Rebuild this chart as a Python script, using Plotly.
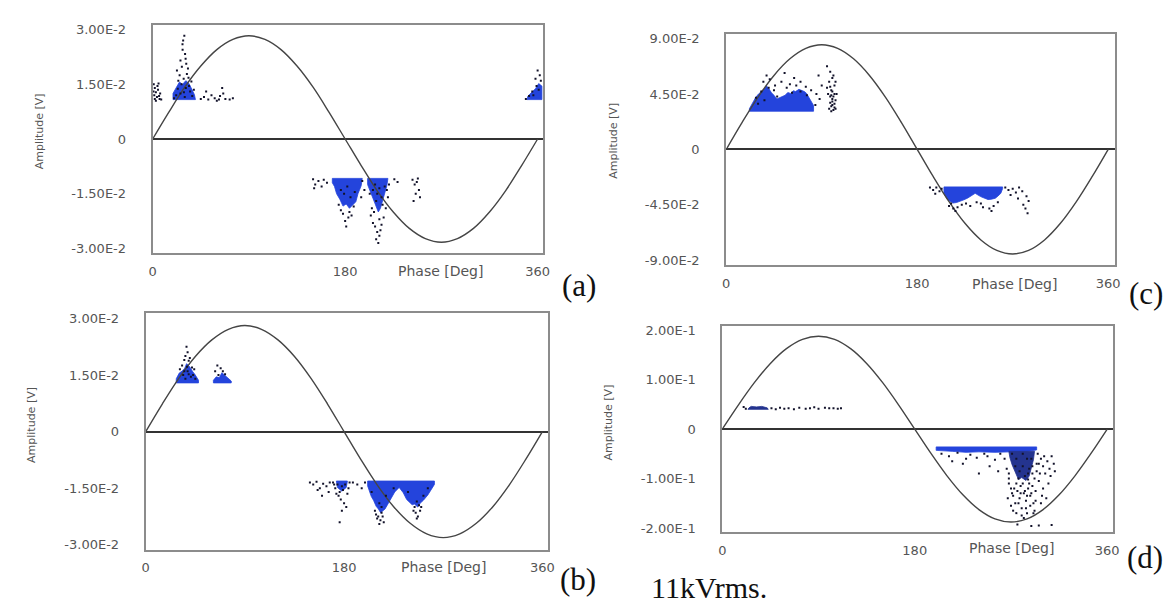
import plotly.graph_objects as go

W, H = 1173, 606

# ---------------- data ----------------
PHASE_TICKS = [0, 180, 360]
PHASE_TICK_TEXT = ["0", "180", "360"]

SINE_PHASE = [0, 15, 30, 45, 60, 75, 90, 105, 120, 135, 150, 165, 180,
              195, 210, 225, 240, 255, 270, 285, 300, 315, 330, 345, 360]
SINE_A = [0, 0.0073, 0.0142, 0.0200, 0.0245, 0.0273, 0.0283, 0.0273, 0.0245, 0.0200, 0.0142, 0.0073, 0,
          -0.0073, -0.0142, -0.0200, -0.0245, -0.0273, -0.0283, -0.0273, -0.0245, -0.0200, -0.0142, -0.0073, 0]
SINE_B = [0, 0.0073, 0.0141, 0.0199, 0.0243, 0.0271, 0.0281, 0.0271, 0.0243, 0.0199, 0.0141, 0.0073, 0,
          -0.0073, -0.0141, -0.0199, -0.0243, -0.0271, -0.0281, -0.0271, -0.0243, -0.0199, -0.0141, -0.0073, 0]
SINE_C = [0, 0.0220, 0.0425, 0.0601, 0.0736, 0.0821, 0.0850, 0.0821, 0.0736, 0.0601, 0.0425, 0.0220, 0,
          -0.0220, -0.0425, -0.0601, -0.0736, -0.0821, -0.0850, -0.0821, -0.0736, -0.0601, -0.0425, -0.0220, 0]
SINE_D = [0, 0.0487, 0.0940, 0.1329, 0.1628, 0.1816, 0.1880, 0.1816, 0.1628, 0.1329, 0.0940, 0.0487, 0,
          -0.0487, -0.0940, -0.1329, -0.1628, -0.1816, -0.1880, -0.1816, -0.1628, -0.1329, -0.0940, -0.0487, 0]

A_YTICKS = [0.03, 0.015, 0, -0.015, -0.03]
A_YTEXT = ["3.00E-2", "1.50E-2", "0", "-1.50E-2", "-3.00E-2"]
B_YTICKS = [0.03, 0.015, 0, -0.015, -0.03]
B_YTEXT = ["3.00E-2", "1.50E-2", "0", "-1.50E-2", "-3.00E-2"]
C_YTICKS = [0.09, 0.045, 0, -0.045, -0.09]
C_YTEXT = ["9.00E-2", "4.50E-2", "0", "-4.50E-2", "-9.00E-2"]
D_YTICKS = [0.2, 0.1, 0, -0.1, -0.2]
D_YTEXT = ["2.00E-1", "1.00E-1", "0", "-1.00E-1", "-2.00E-1"]

# dense (blue) regions: polygons as (phase, amplitude) outlines
A_BLUE = [
    [(19, 0.0108), (40, 0.0108), (39, 0.0122), (36, 0.0140), (34, 0.0152), (31, 0.0160), (28, 0.0150), (25, 0.0156),
     (22, 0.0140), (19, 0.0125)],
    [(350, 0.0108), (364, 0.0108), (364, 0.0145), (361, 0.0152), (358, 0.0138), (354, 0.0128), (351, 0.0118)],
    [(168, -0.0108), (196, -0.0108), (195, -0.0128), (192, -0.0150), (190, -0.0172), (187, -0.0182), (184, -0.0190),
     (181, -0.0178), (178, -0.0184), (175, -0.0165), (172, -0.0150), (170, -0.0130), (168, -0.0120)],
    [(201, -0.0108), (220, -0.0108), (219, -0.0128), (217, -0.0150), (215, -0.0172), (213, -0.0190), (211, -0.0200),
     (209, -0.0185), (207, -0.0175), (205, -0.0158), (203, -0.0140), (201, -0.0125)],
]
B_BLUE = [
    [(27.7, 0.0129), (47.9, 0.0129), (47.9, 0.0136), (46.2, 0.0146), (44.5, 0.0152), (42.8, 0.0158), (39.8, 0.0172),
     (37.1, 0.0180), (35.4, 0.0168), (33.7, 0.0162), (30.4, 0.0155), (27.7, 0.0140)],
    [(61.4, 0.0129), (77.6, 0.0129), (77.6, 0.0134), (74.9, 0.0141), (72.2, 0.0146), (69.1, 0.0156), (66.8, 0.0143),
     (64.0, 0.0145), (61.4, 0.0136)],
    [(173, -0.0131), (183, -0.0131), (182, -0.0148), (178, -0.0158), (174, -0.0148)],
    [(201.4, -0.0131), (262, -0.0131), (262, -0.0140), (259, -0.0155), (256, -0.0168), (252, -0.0182), (249, -0.0190),
     (246.9, -0.0200), (243.8, -0.0192), (241.8, -0.0194), (236.8, -0.0180), (233.7, -0.0162), (231.7, -0.0155),
     (230, -0.0148), (226, -0.0160), (223.6, -0.0172), (221.6, -0.0182), (217.2, -0.0205), (215.2, -0.0210),
     (213.2, -0.0215), (211.1, -0.0205), (209.1, -0.0198), (206.7, -0.0182), (204.7, -0.0172), (201.4, -0.0144)],
]
C_BLUE = [
    [(21.8, 0.031), (82.3, 0.031), (82.3, 0.0357), (80.0, 0.0395), (78.2, 0.0424), (75.7, 0.0455), (73.7, 0.0470),
     (70.5, 0.0480), (68.5, 0.0488), (65.3, 0.0470), (63.3, 0.0477), (60.6, 0.0455), (58.0, 0.0462), (55.5, 0.0440),
     (53.0, 0.0430), (50.2, 0.0418), (47.7, 0.0410), (45.0, 0.0440), (42.6, 0.0460), (40.1, 0.0495), (38.0, 0.0515),
     (35.6, 0.0488), (33.0, 0.0470), (30.4, 0.0450), (27.6, 0.0420), (25.3, 0.0384), (21.8, 0.0330)],
    [(205.2, -0.0305), (260.5, -0.0305), (260.5, -0.0318), (258.8, -0.0357), (256.0, -0.0380), (253.6, -0.0397),
     (250.0, -0.0405), (246.7, -0.0408), (243.0, -0.0395), (239.8, -0.0384), (234.6, -0.0357), (231.0, -0.0380),
     (227.7, -0.0395), (224.0, -0.0410), (220.7, -0.0422), (217.0, -0.0432), (213.8, -0.0436), (211.0, -0.0425),
     (208.6, -0.0410), (205.2, -0.0357)],
]
D_BLUE = [
    [(200, -0.036), (294, -0.036), (294, -0.042), (280, -0.047), (270, -0.046), (255, -0.047), (240, -0.046),
     (228, -0.047), (215, -0.045), (200, -0.043)],
]
D_CORE = [
    [(268, -0.045), (292, -0.045), (291, -0.062), (289, -0.080), (287, -0.095), (284, -0.104), (280, -0.098),
     (277, -0.102), (274, -0.088), (271, -0.072), (269, -0.058)],
    [(24, 0.040), (43, 0.040), (42, 0.043), (37, 0.046), (32, 0.045), (27, 0.046), (25, 0.043)],
]

# individual discharge pulses (phase, amplitude)
A_DOTS = [
    (1, 0.0150), (2, 0.0140), (3, 0.0128), (1.5, 0.0120), (4, 0.0115), (6, 0.0118), (2, 0.0110), (7, 0.0125),
    (5, 0.0135), (8, 0.0108), (3, 0.0105), (4.5, 0.0145), (0.8, 0.0130), (6.5, 0.0110), (5.5, 0.0152),
    (29.6, 0.0283), (27.9, 0.0260), (30.3, 0.0233), (26, 0.0215), (31.4, 0.0206), (22.7, 0.0188), (33, 0.0193),
    (28, 0.0245), (24, 0.0160), (27, 0.0150), (31, 0.0140), (35, 0.0130), (22, 0.0120), (26, 0.0125), (30, 0.0115),
    (34, 0.0145), (37, 0.0118), (29, 0.0165), (32, 0.0178), (20, 0.0112), (28.5, 0.0270), (30.8, 0.0220),
    (27.3, 0.0198), (25.2, 0.0175), (33.5, 0.0168), (36.2, 0.0158), (38.5, 0.0135), (23.5, 0.0138), (29.2, 0.0128),
    (45, 0.0110), (48, 0.0115), (52, 0.0108), (55, 0.0120), (58, 0.0112), (60, 0.0105), (63, 0.0118), (65, 0.0140),
    (66, 0.0125), (68, 0.0110), (72, 0.0108), (75, 0.0112), (50, 0.0130), (62, 0.0108),
    (360, 0.0188), (362, 0.0175), (358, 0.0165), (363, 0.0160), (355, 0.0130), (349, 0.0110), (352, 0.0118),
    (359, 0.0145), (361, 0.0135), (356, 0.0120),
    (150, -0.0110), (152, -0.0125), (155, -0.0115), (158, -0.0130), (160, -0.0112), (163, -0.0120), (151, -0.0135),
    (196, -0.0115), (198, -0.0140), (195, -0.0160),
    (178, -0.0205), (183, -0.0215), (180, -0.0225), (186, -0.0210), (176, -0.0195), (188, -0.0185), (181, -0.0240),
    (184, -0.0200), (174, -0.0180), (179, -0.0150), (185, -0.0160), (182, -0.0130), (176, -0.0140), (189, -0.0145),
    (208, -0.0240), (210, -0.0255), (212, -0.0265), (209, -0.0275), (211, -0.0285), (206, -0.0230), (214, -0.0235),
    (213, -0.0250), (204, -0.0210), (216, -0.0215), (218, -0.0190), (220, -0.0160), (205, -0.0190), (207, -0.0200),
    (215, -0.0180), (219, -0.0140), (221, -0.0125), (203, -0.0150), (209, -0.0170), (212, -0.0220),
    (206, -0.0140), (210, -0.0150), (214, -0.0160), (208, -0.0125), (212, -0.0135), (217, -0.0130),
    (243, -0.0112), (245, -0.0125), (247, -0.0118), (249, -0.0140), (250, -0.0160), (246, -0.0150), (244, -0.0170),
    (248, -0.0108), (226, -0.0110), (229, -0.0118),
]
B_DOTS = [
    (36, 0.0200), (38, 0.0210), (35, 0.0190), (40, 0.0195), (37, 0.0225), (42, 0.0170), (33, 0.0175), (39, 0.0188),
    (44, 0.0165), (31, 0.0165), (34, 0.0150), (38, 0.0160), (41, 0.0145), (36, 0.0140), (45, 0.0140),
    (37.5, 0.0172), (39, 0.0152), (35, 0.0160), (43, 0.0150),
    (65, 0.0175), (68, 0.0168), (63, 0.0160), (70, 0.0160), (66, 0.0150), (72, 0.0152),
    (170, -0.0135), (172, -0.0150), (174, -0.0140), (176, -0.0160), (178, -0.0145), (175, -0.0170), (177, -0.0180),
    (179, -0.0155), (181, -0.0140), (183, -0.0165), (180, -0.0190), (182, -0.0200), (178, -0.0210), (184, -0.0150),
    (173, -0.0165), (176, -0.0240), (171, -0.0140), (185, -0.0135),
    (149, -0.0135), (152, -0.0140), (155, -0.0133), (158, -0.0150), (161, -0.0138), (164, -0.0145), (166, -0.0160),
    (160, -0.0170), (156, -0.0155), (167, -0.0135), (188, -0.0135), (192, -0.0140), (196, -0.0150), (199, -0.0135),
    (208, -0.0210), (211, -0.0225), (213, -0.0235), (215, -0.0225), (212, -0.0245), (210, -0.0230), (214, -0.0215),
    (216, -0.0240), (209, -0.0220),
    (243, -0.0210), (245, -0.0215), (247, -0.0225), (249, -0.0210), (244, -0.0200), (246, -0.0230), (250, -0.0200),
    (205, -0.0160), (218, -0.0170), (225, -0.0150), (238, -0.0160), (252, -0.0170), (256, -0.0150),
    (212, -0.0190), (214, -0.0200), (246, -0.0185), (248, -0.0195),
]
C_DOTS = [
    (95, 0.0675), (98, 0.063), (100, 0.058), (97, 0.055), (102, 0.052), (99, 0.048), (96, 0.045), (101, 0.043),
    (103, 0.040), (98, 0.038), (100, 0.036), (102, 0.034), (97, 0.033), (99, 0.031), (104, 0.045), (95, 0.050),
    (101, 0.060), (103, 0.055), (100, 0.041), (98, 0.043), (102, 0.037), (99, 0.035), (101, 0.032), (103, 0.033),
    (100, 0.047), (102, 0.045), (98, 0.051), (100, 0.039), (99, 0.044),
    (38, 0.060), (41, 0.057), (35, 0.055), (46, 0.052), (52, 0.055), (57, 0.050), (60, 0.053), (64, 0.058),
    (70, 0.055), (75, 0.051), (80, 0.048), (85, 0.045), (88, 0.041), (84, 0.036), (90, 0.052), (87, 0.060),
    (55, 0.062), (45, 0.048), (66, 0.052),
    (28, 0.042), (33, 0.047), (40, 0.050), (48, 0.043), (62, 0.046), (70, 0.047), (76, 0.044), (30, 0.037),
    (36, 0.040),
    (192, -0.031), (195, -0.033), (198, -0.031), (201, -0.034), (203, -0.032), (197, -0.036),
    (210, -0.046), (214, -0.048), (218, -0.047), (222, -0.045), (226, -0.044), (230, -0.046), (236, -0.043),
    (242, -0.047), (248, -0.048), (252, -0.046), (256, -0.043), (212, -0.044), (216, -0.050), (240, -0.044),
    (250, -0.050),
    (263, -0.031), (266, -0.033), (270, -0.032), (273, -0.035), (276, -0.031), (279, -0.034), (283, -0.038),
    (285, -0.042), (280, -0.045), (282, -0.048), (284, -0.052), (268, -0.037), (275, -0.040),
]
D_DOTS = [
    (46, 0.042), (50, 0.040), (54, 0.043), (58, 0.041), (62, 0.042), (67, 0.040), (72, 0.043), (78, 0.041),
    (82, 0.042), (90, 0.041), (96, 0.043), (100, 0.042), (104, 0.042), (108, 0.041), (111, 0.042), (86, 0.044),
    (20, 0.045), (22, 0.041),
    (205, -0.050), (212, -0.055), (220, -0.048), (228, -0.060), (232, -0.052), (238, -0.058), (245, -0.050),
    (250, -0.075), (255, -0.062), (258, -0.085), (225, -0.070), (240, -0.090), (215, -0.065), (248, -0.055),
    (260, -0.050),
    (264, -0.060), (266, -0.080), (268, -0.100), (270, -0.120), (272, -0.135), (274, -0.150), (276, -0.125),
    (278, -0.140), (280, -0.160), (282, -0.130), (284, -0.145), (286, -0.120), (288, -0.135), (290, -0.115),
    (292, -0.100), (294, -0.085), (296, -0.070), (298, -0.060), (300, -0.075), (302, -0.090), (304, -0.065),
    (306, -0.080), (308, -0.055), (310, -0.070), (296, -0.105), (300, -0.120), (303, -0.140), (298, -0.150),
    (292, -0.165), (285, -0.170), (275, -0.170), (270, -0.155), (267, -0.140), (279, -0.115), (283, -0.095),
    (287, -0.080), (293, -0.125), (297, -0.090), (305, -0.110), (301, -0.055), (295, -0.050), (289, -0.060),
    (281, -0.075), (275, -0.060), (271, -0.050), (268, -0.110), (272, -0.165), (288, -0.155), (293, -0.145),
    (282, -0.180), (276, -0.193), (296, -0.195), (286, -0.102), (278, -0.085), (274, -0.075), (290, -0.090),
    (285, -0.060), (281, -0.050), (277, -0.100), (283, -0.125), (273, -0.120), (289, -0.130), (299, -0.135),
    (307, -0.095), (311, -0.085), (294, -0.070), (268, -0.090), (291, -0.170), (289, -0.196), (308, -0.194),
    (279, -0.130), (281, -0.110), (285, -0.135), (277, -0.150), (287, -0.110), (275, -0.110), (271, -0.130),
    (291, -0.150), (284, -0.160), (280, -0.175), (290, -0.075), (286, -0.090),
]

# ---------------- layout / styling ----------------
TICK_FONT = dict(family="DejaVu Sans, Verdana, sans-serif", size=13, color="#555555")
TITLE_FONT = dict(family="DejaVu Sans, Verdana, sans-serif", size=11, color="#555555")
XTITLE_FONT = dict(family="DejaVu Sans, Verdana, sans-serif", size=14, color="#555555")
SERIF = dict(family="Liberation Serif, Times New Roman, serif", size=31, color="#111111")
BLUE = "#2444dc"
DARK = "#12122a"

panels = [
    dict(name="(a)", box=(142, 536, 14, 245), xr=[0, 365], yr=[-0.0313, 0.0313],
         yt=A_YTICKS, ytx=A_YTEXT, sine=SINE_A, blue=A_BLUE, core=[], dots=A_DOTS,
         label=(572, 278), ytitle=(28, 122), xtitle=(433, 263)),
    dict(name="(b)", box=(135, 541, 306, 545), xr=[0, 365], yr=[-0.0313, 0.0313],
         yt=B_YTICKS, ytx=B_YTEXT, sine=SINE_B, blue=B_BLUE, core=[], dots=B_DOTS,
         label=(571, 575), ytitle=(19, 419), xtitle=(436, 563)),
    dict(name="(c)", box=(721, 1113, 23, 257), xr=[0, 366], yr=[-0.094, 0.094],
         yt=C_YTICKS, ytx=C_YTEXT, sine=SINE_C, blue=C_BLUE, core=[], dots=C_DOTS,
         label=(1145, 286), ytitle=(607, 131), xtitle=(1012, 276)),
    dict(name="(d)", box=(717, 1111, 319, 527), xr=[0, 365], yr=[-0.208, 0.208],
         yt=D_YTICKS, ytx=D_YTEXT, sine=SINE_D, blue=D_BLUE, core=D_CORE, dots=D_DOTS,
         label=(1144, 553), ytitle=(602, 416), xtitle=(1009, 543)),
]


def poly_xy(polys):
    xs, ys = [], []
    for p in polys:
        xs += [q[0] for q in p] + [p[0][0], None]
        ys += [q[1] for q in p] + [p[0][1], None]
    return xs, ys


fig = go.Figure()
annotations = []
for i, p in enumerate(panels):
    sfx = "" if i == 0 else str(i + 1)
    xref, yref = "x" + sfx, "y" + sfx
    x0, x1, y0, y1 = p["box"]
    fig.update_layout(**{
        "xaxis" + sfx: dict(domain=[x0 / W, x1 / W], range=p["xr"], anchor=yref,
                            tickvals=PHASE_TICKS, ticktext=PHASE_TICK_TEXT, tickfont=TICK_FONT,
                            showgrid=False, zeroline=False, showline=True, mirror=True,
                            linecolor="#8c8c8c", linewidth=2, ticks="", ticklabelstandoff=5),
        "yaxis" + sfx: dict(domain=[1 - y1 / H, 1 - y0 / H], range=p["yr"], anchor=xref,
                            tickvals=p["yt"], ticktext=p["ytx"], tickfont=TICK_FONT,
                            showgrid=False, zeroline=True, zerolinecolor="#333333", zerolinewidth=1.8,
                            showline=True, mirror=True, linecolor="#8c8c8c", linewidth=2,
                            ticks="", ticklabelstandoff=22),
    })
    bx, by = poly_xy(p["blue"])
    fig.add_trace(go.Scatter(x=bx, y=by, mode="lines", fill="toself", fillcolor=BLUE,
                             line=dict(color=BLUE, width=0.8), xaxis=xref, yaxis=yref,
                             hoverinfo="skip", showlegend=False))
    if p["core"]:
        cx, cy = poly_xy(p["core"])
        fig.add_trace(go.Scatter(x=cx, y=cy, mode="lines", fill="toself", fillcolor="#24348f",
                                 line=dict(color="#24348f", width=0.8), xaxis=xref, yaxis=yref,
                                 hoverinfo="skip", showlegend=False))
    fig.add_trace(go.Scatter(x=SINE_PHASE, y=p["sine"], mode="lines",
                             line=dict(color="#454545", width=1.4, shape="spline"),
                             xaxis=xref, yaxis=yref, hoverinfo="skip", showlegend=False))
    fig.add_trace(go.Scatter(x=[d[0] for d in p["dots"]], y=[d[1] for d in p["dots"]], mode="markers",
                             marker=dict(color=DARK, size=2, symbol="square"),
                             xaxis=xref, yaxis=yref, hoverinfo="skip", showlegend=False))
    annotations.append(dict(text=p["name"], x=p["label"][0] / W, y=1 - p["label"][1] / H,
                            xref="paper", yref="paper", showarrow=False, font=SERIF,
                            xanchor="center", yanchor="middle"))
    annotations.append(dict(text="Amplitude [V]", x=p["ytitle"][0] / W, y=1 - p["ytitle"][1] / H,
                            xref="paper", yref="paper", showarrow=False, font=TITLE_FONT,
                            textangle=-90, xanchor="center", yanchor="middle"))
    annotations.append(dict(text="Phase [Deg]", x=p["xtitle"][0] / W, y=1 - p["xtitle"][1] / H,
                            xref="paper", yref="paper", showarrow=False, font=XTITLE_FONT,
                            xanchor="center", yanchor="middle"))

annotations.append(dict(text="11kVrms.", x=704 / W, y=1 - 583 / H, xref="paper", yref="paper",
                        showarrow=False, font=dict(family="Liberation Serif, Times New Roman, serif",
                                                   size=30, color="#111111"),
                        xanchor="center", yanchor="middle"))

fig.update_layout(width=W, height=H, margin=dict(l=0, r=0, t=0, b=0),
                  paper_bgcolor="white", plot_bgcolor="white", annotations=annotations,
                  showlegend=False)

fig.write_html("out.html")
